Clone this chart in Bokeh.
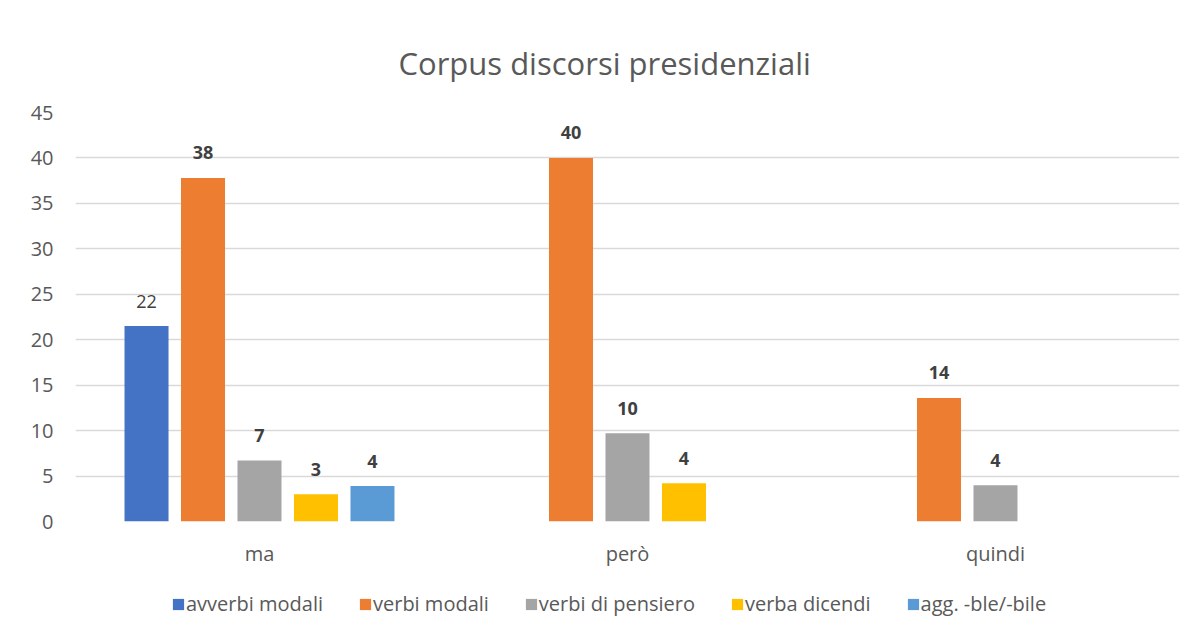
from bokeh.plotting import figure
from bokeh.models import ColumnDataSource, FactorRange, Legend, LegendItem, FixedTicker, Range1d, Title
from bokeh.layouts import column
from bokeh.transform import dodge
from bokeh.embed import file_html
from bokeh.resources import INLINE
from bokeh.core.properties import value

# ---- data ----
categories = ["ma", "però", "quindi"]
series_names = ["avverbi modali", "verbi modali", "verbi di pensiero", "verba dicendi", "agg. -ble/-bile"]
avverbi_modali = [21.5, 0, 0]
verbi_modali = [37.8, 40.0, 13.6]
verbi_di_pensiero = [6.7, 9.7, 4.0]
verba_dicendi = [3.0, 4.2, 0]
agg_bile = [3.9, 0, 0]
y_ticks = [0, 5, 10, 15, 20, 25, 30, 35, 40, 45]
title_text = "Corpus discorsi presidenziali"

series_values = [avverbi_modali, verbi_modali, verbi_di_pensiero, verba_dicendi, agg_bile]
colors = ["#4472C4", "#ED7D31", "#A5A5A5", "#FFC000", "#5B9BD5"]
label_bold = [False, True, True, True, True]

FONT = "Open Sans"
TXT = "#595959"

p = figure(
    x_range=FactorRange(factors=categories, range_padding=0, factor_padding=0),
    y_range=Range1d(0, 45),
    width=1189, height=575,
    output_backend="svg", toolbar_location=None,
    min_border_left=75, min_border_right=10, min_border_top=112, min_border_bottom=54,
)
p.outline_line_color = None
p.background_fill_color = "white"
p.border_fill_color = "white"

t = Title(text=title_text, align="left", text_font=FONT, text_font_size="31px",
          text_font_style="normal", text_color=TXT, standoff=57, offset=323)
p.add_layout(t, "above")

step = 0.1535
bar_w = 0.1196
for i, (name, vals, col, bold) in enumerate(zip(series_names, series_values, colors, label_bold)):
    xs = [c for c, v in zip(categories, vals) if v > 0]
    ys = [v for v in vals if v > 0]
    labels = [str(int(v + 0.5)) for v in ys]
    src = ColumnDataSource(dict(cat=xs, top=ys, label=labels))
    off = (i - 2) * step
    p.vbar(x=dodge("cat", off, range=p.x_range), top="top", width=bar_w, source=src,
           fill_color=col, line_color=None)
    p.text(x=dodge("cat", off, range=p.x_range), y="top", text="label", source=src,
           text_align="center", text_baseline="alphabetic", y_offset=-25,
           text_font=value(FONT), text_font_size="18px",
           text_font_style="bold" if bold else "normal", text_color="#404040")

# axes
p.yaxis.ticker = FixedTicker(ticks=y_ticks)
p.yaxis.axis_line_color = None
p.yaxis.major_tick_line_color = None
p.yaxis.minor_tick_line_color = None
p.yaxis.major_tick_in = 0
p.yaxis.major_tick_out = 0
p.yaxis.major_label_standoff = 22
p.yaxis.major_label_text_font = FONT
p.yaxis.major_label_text_font_size = "20px"
p.yaxis.major_label_text_color = TXT

p.xaxis.axis_line_color = None
p.xaxis.major_tick_line_color = None
p.xaxis.minor_tick_line_color = None
p.xaxis.major_tick_in = 0
p.xaxis.major_tick_out = 0
p.xaxis.major_label_standoff = 18
p.xaxis.major_label_text_font = FONT
p.xaxis.major_label_text_font_size = "20px"
p.xaxis.major_label_text_color = TXT

p.xgrid.grid_line_color = None
p.ygrid.grid_line_color = "#D9D9D9"
p.ygrid.grid_line_width = 1.5

# legend strip (separate small figure; swatches are zero-size bars in the series colours)
lg = figure(width=1189, height=51, x_range=Range1d(0, 1), y_range=Range1d(0, 1),
            output_backend="svg", toolbar_location=None,
            x_axis_type=None, y_axis_type=None,
            min_border_left=75, min_border_right=10, min_border_top=0, min_border_bottom=0)
lg.outline_line_color = None
lg.xgrid.grid_line_color = None
lg.ygrid.grid_line_color = None
items = []
for name, col in zip(series_names, colors):
    sw = ColumnDataSource(dict(x=[0.5], b=[0.0], t=[0.0]))
    dr = lg.vbar(x="x", bottom="b", top="t", width=0.0, source=sw,
                 fill_color=col, line_color=None)
    items.append(LegendItem(label=name, renderers=[dr]))
legend = Legend(items=items, orientation="horizontal", location=(96, 9),
                label_text_font=FONT, label_text_font_size="20px", label_text_color=TXT,
                glyph_width=14, glyph_height=14, label_standoff=1, spacing=35,
                border_line_color=None, background_fill_alpha=0, padding=0, margin=0)
lg.add_layout(legend, "center")

layout = column(p, lg, spacing=0)
open("out.html", "w").write(file_html(layout, INLINE))
